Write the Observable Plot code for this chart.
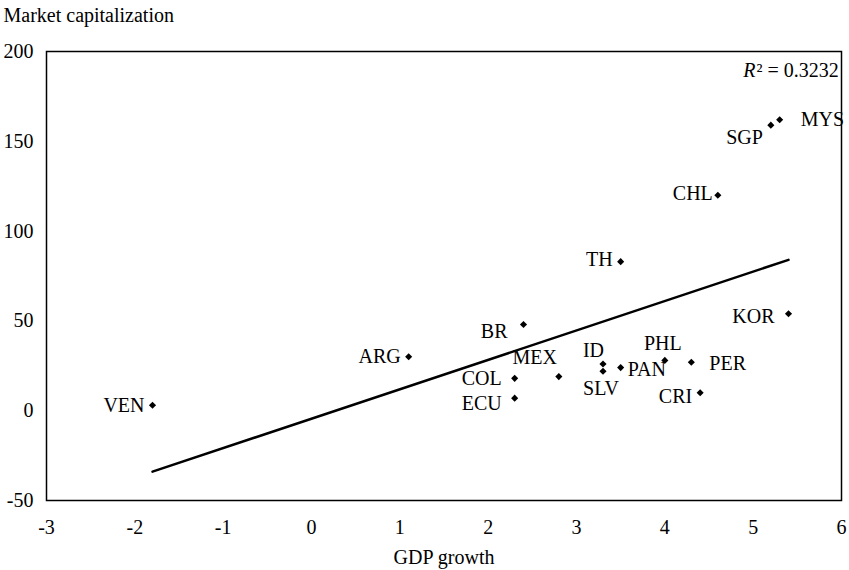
<!DOCTYPE html>
<html>
<head>
<meta charset="utf-8">
<script src="https://cdn.jsdelivr.net/npm/d3@7"></script>
<script src="https://cdn.jsdelivr.net/npm/@observablehq/plot@0.6"></script>
<style>
  html, body { margin: 0; padding: 0; background: white; }
</style>
</head>
<body>
<div id="chart"></div>
<script>
// Data
const countries = ["VEN","ARG","BR","COL","ECU","MEX","ID","SLV","PAN","PHL","PER","CRI","KOR","SGP","MYS","CHL","TH"];
const gdpGrowth = [-1.8, 1.1, 2.4, 2.3, 2.3, 2.8, 3.3, 3.3, 3.5, 4.0, 4.3, 4.4, 5.4, 5.2, 5.3, 4.6, 3.5];
const marketCap = [3, 30, 48, 18, 7, 19, 26, 22, 24, 28, 27, 10, 54, 159, 162, 120, 83];
const xTicks = [-3, -2, -1, 0, 1, 2, 3, 4, 5, 6];
const yTicks = [-50, 0, 50, 100, 150, 200];
const rSquaredRest = "² = 0.3232";

const data = countries.map((name, i) => ({name, x: gdpGrowth[i], y: marketCap[i]}));

// label placement: [textAnchor, dx, dy]
const placement = {
  VEN: ["end", -8, 0], ARG: ["end", -8, 0], BR: ["end", -16, 7], COL: ["end", -13, 0],
  ECU: ["end", -13, 5], MEX: ["end", -2, -19], ID: ["end", 1, -13], SLV: ["middle", -2, 17],
  PAN: ["start", 7, 2], PHL: ["middle", -2, -17], PER: ["start", 18, 1], CRI: ["end", -8, 4],
  KOR: ["end", -14, 3], SGP: ["end", -8, 12], MYS: ["start", 21, 0], CHL: ["end", -5, -2],
  TH: ["end", -8, -2]
};

const labelMarks = data.map(d => {
  const [anchor, dx, dy] = placement[d.name];
  return Plot.text([d], {x: "x", y: "y", text: "name", textAnchor: anchor, dx, dy, fill: "black"});
});

const chart = Plot.plot({
  width: 849,
  height: 570,
  marginLeft: 46,
  marginRight: 8,
  marginTop: 51,
  marginBottom: 70,
  style: {fontFamily: "'Liberation Serif', 'Times New Roman', serif", fontSize: "20px", color: "black", background: "white"},
  x: {domain: [-3, 6]},
  y: {domain: [-50, 200]},
  marks: [
    Plot.axisX({ticks: xTicks, tickSize: 0, tickPadding: 19, label: null, tickFormat: d => String(d)}),
    Plot.axisY({ticks: yTicks, tickSize: 0, tickPadding: 13, label: null, tickFormat: d => String(d)}),
    Plot.linearRegressionY(data, {x: "x", y: "y", ci: 0, stroke: "black", strokeWidth: 2.5}),
    Plot.dot(data, {x: "x", y: "y", symbol: "diamond2", r: 3.2, fill: "black", stroke: "none"}),
    ...labelMarks,
    Plot.text(["R"], {frameAnchor: "top-right", dx: -86, dy: 19, textAnchor: "end", lineAnchor: "middle", fontStyle: "italic", fill: "black"}),
    Plot.text([rSquaredRest], {frameAnchor: "top-right", dx: -85, dy: 19, textAnchor: "start", lineAnchor: "middle", fill: "black"}),
    Plot.text(["Market capitalization"], {frameAnchor: "top-left", dx: -43, dy: -36, textAnchor: "start", lineAnchor: "middle", fill: "black"}),
    Plot.text(["GDP growth"], {frameAnchor: "bottom", dy: 57, lineAnchor: "middle", fill: "black"}),
    Plot.frame({stroke: "black", strokeWidth: 1.5})
  ]
});

document.getElementById("chart").appendChild(chart);
</script>
</body>
</html>
